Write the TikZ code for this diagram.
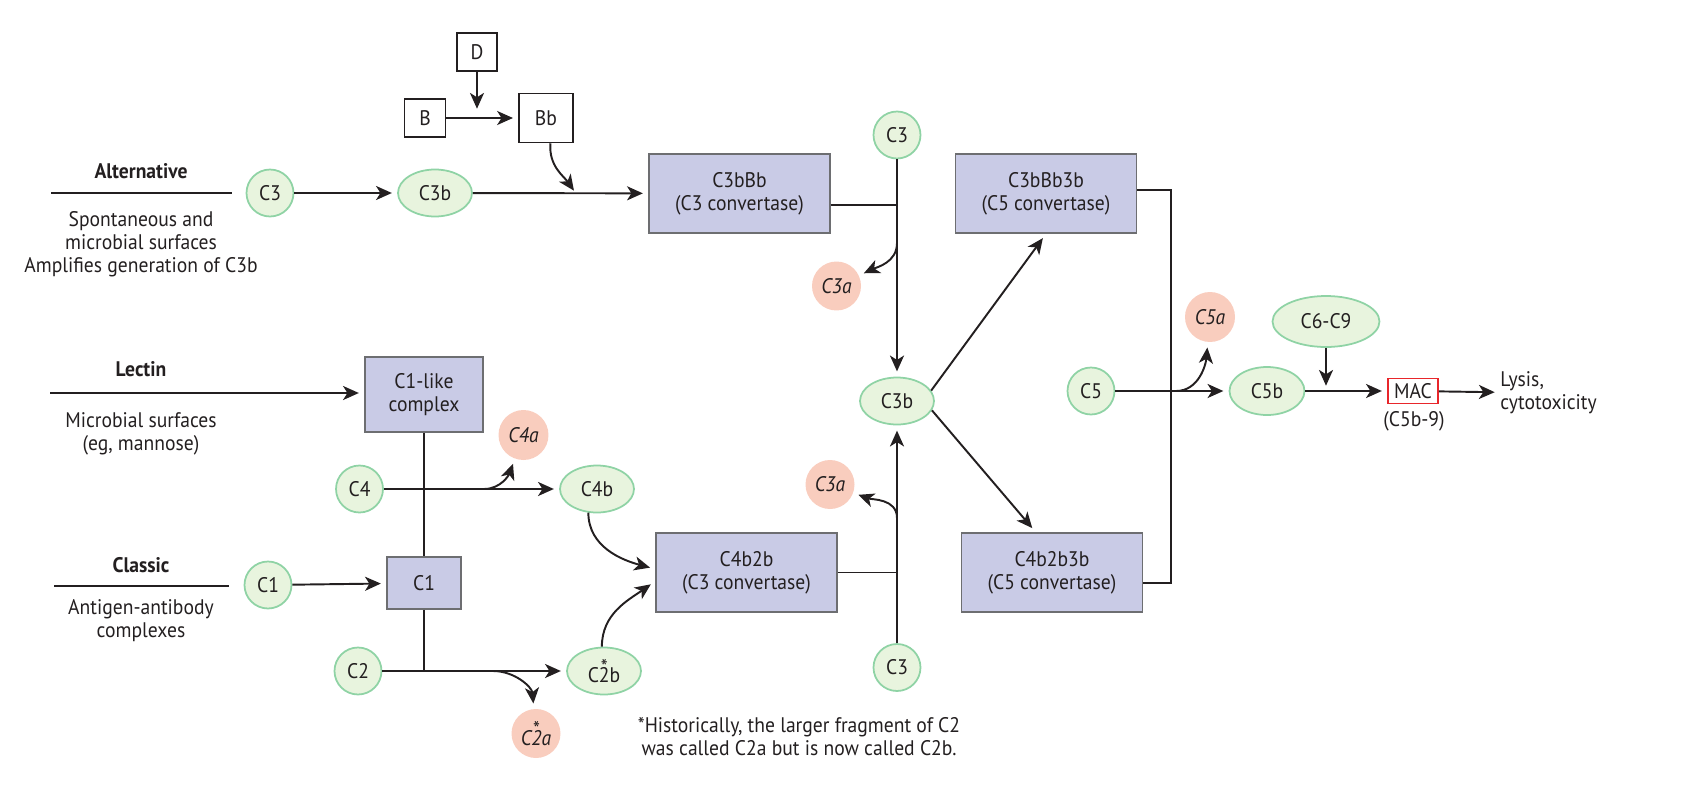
\documentclass[tikz,border=0pt]{standalone}
\usepackage{fontspec}
\setmainfont[FakeStretch=0.93]{PT Sans}
\usepackage{xcolor}
\usetikzlibrary{arrows.meta,shapes.geometric,calc}

\definecolor{ink}{HTML}{231F20}
\definecolor{ovfill}{HTML}{E8F4DE}
\definecolor{ovline}{HTML}{8FD3A5}
\definecolor{pinkfill}{HTML}{F9CDBE}
\definecolor{boxfill}{HTML}{C9CBE6}
\definecolor{boxline}{HTML}{6D6E71}
\definecolor{macred}{HTML}{E8262B}

\newcommand{\topstar}[1]{\leavevmode\setbox0\hbox{#1}\rlap{\hbox to \wd0{\hss\raisebox{0.4em}{\upshape*}\hss}}\box0}

\begin{document}
\begin{tikzpicture}[x=0.02cm,y=0.02cm,
	every node/.style={font=\fontsize{12}{13}\selectfont,text=ink},
	lbl/.style={align=center},
	head/.style={font=\fontsize{12}{13}\selectfont\bfseries},
	greenov/.style={ellipse,draw=ovline,fill=ovfill,line width=1pt,inner sep=0pt,minimum width=1.48cm,minimum height=0.94cm},
	greenring/.style={circle,draw=ovline,fill=ovfill,line width=1pt,inner sep=0pt,minimum size=0.94cm},
	pinkring/.style={circle,fill=pinkfill,inner sep=0pt,minimum size=0.98cm,font=\fontsize{12}{13}\selectfont\itshape},
	convbox/.style={rectangle,draw=boxline,fill=boxfill,line width=1pt,align=center,inner sep=0pt,minimum width=3.62cm,minimum height=1.58cm},
	factorbox/.style={rectangle,draw=ink,line width=0.9pt,fill=white,inner sep=0pt},
	link/.style={draw=ink,line width=1.1pt},
	arr/.style={link,-{Stealth[length=9pt,width=8pt,inset=2.5pt]},shorten >=3pt}]
	\useasboundingbox (0,0) rectangle (1688,-788);

	% alternative pathway
	\node[head] (alt) at (141,-171) {Alternative};
	\coordinate (altL) at (51,-193);
	\coordinate (altR) at (232,-193);
	\node[lbl] (altdesc) at (141,-244) {Spontaneous and\\microbial surfaces\\Amplifies generation of C3b};
	\node[greenring] (c3alt) at (270,-193) {C3};
	\node[greenov] (c3balt) at (435,-193) {C3b};
	\node[factorbox,minimum width=0.8cm,minimum height=0.76cm] (fD) at (477,-52) {D};
	\node[factorbox,minimum width=0.82cm,minimum height=0.76cm] (fB) at (425,-118) {B};
	\node[factorbox,minimum width=1.08cm,minimum height=0.98cm] (fBb) at (546,-118) {Bb};
	\coordinate (dtip) at (477,-114);
	\coordinate (bbend) at (577,-195);
	\node[convbox] (c3bbb) at (739.5,-193.5) {C3bBb\\(C3 convertase)};
	\draw[link] (altL) -- (altR);
	\draw[arr] (c3alt) -- (c3balt);
	\draw[arr] (fD) -- (dtip);
	\draw[arr] (fB) -- (fBb);
	\draw[arr] (fBb.-80) to[out=-95,in=125] (bbend);
	\draw[arr] (c3balt) -- (c3bbb);

	% C3 cleavage, top
	\node[greenring] (c3top) at (897,-135) {C3};
	\node[greenov] (c3bmid) at (897,-401) {C3b};
	\node[pinkring] (c3aup) at (836.5,-286) {C3a};
	\coordinate (j1) at (897,-205);
	\coordinate (s1) at (897,-243);
	\draw[link] (c3bbb.east |- j1) -- (j1);
	\draw[arr] (c3top) -- (c3bmid);
	\draw[arr] (s1) to[out=-90,in=25] (c3aup);

	% C5 convertases
	\node[convbox] (c3bbb3b) at (1046,-193.5) {C3bBb3b\\(C5 convertase)};
	\node[convbox] (c4b2b3b) at (1052,-572.5) {C4b2b3b\\(C5 convertase)};
	\coordinate (rt) at (1171,-190);
	\coordinate (rb) at (1171,-583);
	\draw[arr] (c3bmid.17) -- (c3bbb3b.south);
	\draw[arr] (c3bmid.-15) -- (c4b2b3b.112);
	\draw[link] (c3bbb3b.east |- rt) -- (rt) -- (rb) -- (c4b2b3b.east |- rb);

	% C5 to MAC
	\node[greenring] (c5) at (1091,-391) {C5};
	\node[greenov,minimum width=1.5cm,minimum height=0.96cm] (c5b) at (1267,-391) {C5b};
	\node[pinkring,minimum size=1cm] (c5a) at (1210,-317) {C5a};
	\node[greenov,minimum width=2.14cm,minimum height=1.02cm] (c69) at (1326,-321.5) {C6-C9};
	\node[rectangle,draw=macred,line width=1pt,minimum width=1cm,minimum height=0.5cm,inner sep=0pt] (mac) at (1413,-391) {MAC};
	\node (macsub) at (1414,-421) {(C5b-9)};
	\node[anchor=west,align=left,inner sep=0pt] (lysis) at (1500,-393) {Lysis,\\cytotoxicity};
	\coordinate (s5) at (1176,-391);
	\coordinate (c69tip) at (1326,-391);
	\draw[arr] (c5) -- (c5b);
	\draw[arr] (s5) to[out=0,in=-95] (c5a);
	\draw[arr] (c69) -- (c69tip);
	\draw[arr] (c5b) -- (mac);
	\draw[arr] (mac) -- (lysis);

	% lectin pathway
	\node[head] (lec) at (141,-369) {Lectin};
	\coordinate (lecL) at (50,-393);
	\node[lbl] (lecdesc) at (141,-433.5) {Microbial surfaces\\(eg, mannose)};
	\node[convbox,minimum width=2.36cm,minimum height=1.5cm] (c1like) at (424,-394.5) {C1-like\\complex};
	\draw[arr] (lecL) -- (c1like.west |- lecL);

	% classic pathway
	\node[head] (cls) at (141,-565) {Classic};
	\coordinate (clsL) at (54,-586);
	\coordinate (clsR) at (229,-586);
	\node[lbl] (clsdesc) at (141,-621) {Antigen-antibody\\complexes};
	\node[greenring] (c1) at (268,-585) {C1};
	\node[convbox,minimum width=1.48cm,minimum height=1.04cm] (c1box) at (424,-583) {C1};
	\draw[link] (clsL) -- (clsR);
	\draw[arr] (c1) -- (c1box);
	\draw[link] (c1like) -- (c1box);

	% C4 and C2 cleavage
	\node[greenring] (c4) at (359.5,-489) {C4};
	\node[greenov] (c4b) at (597,-489) {C4b};
	\node[pinkring,minimum size=1cm] (c4a) at (523.5,-435) {C4a};
	\coordinate (s4) at (484,-489);
	\draw[arr] (c4) -- (c4b);
	\draw[arr] (s4) to[out=0,in=-110] (c4a);
	\node[greenring] (c2) at (358,-671) {C2};
	\node[greenov] (c2b) at (604,-671) {C\topstar{2}b};
	\node[pinkring] (c2a) at (536,-733.5) {C\topstar{2}a};
	\coordinate (j2) at (424,-671);
	\coordinate (s2a) at (493,-671);
	\draw[link] (c1box) -- (j2);
	\draw[arr] (c2) -- (c2b);
	\draw[arr] (s2a) to[out=0,in=95] (c2a);

	% C4b2b and lower C3
	\node[convbox] (c4b2b) at (746.5,-572.5) {C4b2b\\(C3 convertase)};
	\node[greenring] (c3bot) at (897,-667.5) {C3};
	\node[pinkring] (c3alow) at (830,-484.5) {C3a};
	\coordinate (s3) at (897,-518);
	\draw[arr] (c4b.250) to[out=-90,in=165] ([yshift=2pt]c4b2b.west);
	\draw[arr] (c2b.95) to[out=90,in=-145] ([yshift=-5pt]c4b2b.west);
	\draw[link] (c4b2b.east) -- (c4b2b.east -| c3bot);
	\draw[arr] (c3bot) -- (c3bmid);
	\draw[arr] (s3) to[out=90,in=-20] (c3alow);

	\node[lbl] (note) at (799,-736.5) {*Historically, the larger fragment of C2\\was called C2a but is now called C2b.};
\end{tikzpicture}
\end{document}
